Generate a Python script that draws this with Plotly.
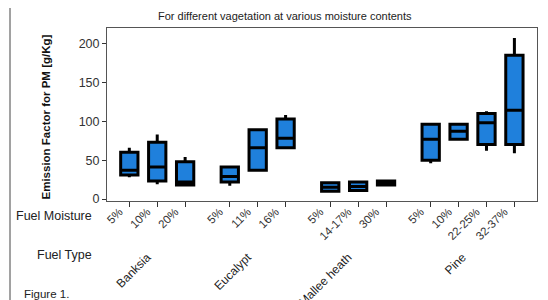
import plotly.graph_objects as go

# ---- data ----
fuel_types = ["Banksia", "Eucalypt", "Mallee heath", "Pine"]
moisture_labels = [
    ["5%", "10%", "20%"],
    ["5%", "11%", "16%"],
    ["5%", "14-17%", "30%"],
    ["5%", "10%", "22-25%", "32-37%"],
]
lower_whisker = [28, 19, 18,   17, 37, 66,   10, 10, 17,   46, 76, 62, 59]
q1_values     = [31, 23, 18,   22, 37, 66,   10, 11, 18,   50, 77, 70, 70]
median_values = [37, 41, 22,   29, 66, 78,   15, 16, 20,   77, 87, 98, 114]
q3_values     = [60, 73, 48,   41, 89, 103,  21, 22, 23,   96, 96, 110, 185]
upper_whisker = [66, 83, 54,   43, 90, 108,  22, 23, 24,   98, 96, 113, 207]
y_ticks = [0, 50, 100, 150, 200]

# ---- positions derived from group structure ----
group_step = 3.6
xpos, xtext, centers = [], [], []
for g, labels in enumerate(moisture_labels):
    base = g * group_step
    for i, lab in enumerate(labels):
        xpos.append(base + i)
        xtext.append(lab)
    centers.append(base + (len(labels) - 1) / 2)

W, H = 548, 300
ML, MR, MT, MB = 99, 19, 20, 107
PW, PH = W - ML - MR, H - MT - MB
XR = [-0.8, 14.61]
# rotated labels are drawn slightly right of their anchor; nudge them back
label_nudge = 10 / PW * (XR[1] - XR[0])
label_pos = [p - label_nudge for p in xpos]
type_pos = [c - label_nudge for c in centers]

def px_x(p):
    return (p - ML) / PW

def px_y(p):
    return (H - MB - p) / PH

fig = go.Figure()
fig.add_trace(go.Box(
    x=xpos, q1=q1_values, median=median_values, q3=q3_values,
    lowerfence=lower_whisker, upperfence=upper_whisker,
    fillcolor="#1f80dc", line=dict(color="black", width=3),
    width=0.62, whiskerwidth=0, boxpoints=False, hoverinfo="skip",
    showlegend=False,
))
# invisible helper traces for the label axes
fig.add_trace(go.Scatter(x=label_pos, y=[None] * len(label_pos), xaxis="x2",
                         mode="markers", showlegend=False, hoverinfo="skip"))
fig.add_trace(go.Scatter(x=type_pos, y=[None] * len(type_pos), xaxis="x3",
                         mode="markers", showlegend=False, hoverinfo="skip"))

font = "Liberation Sans, Arial, sans-serif"
fig.update_layout(
    width=W, height=H,
    margin=dict(l=ML, r=MR, t=MT, b=MB, autoexpand=False),
    paper_bgcolor="white", plot_bgcolor="white",
    font=dict(family=font, size=11, color="#333"),
    title=dict(text="For different vagetation at various moisture contents",
               x=0.505, xref="container", xanchor="center",
               y=1 - 8 / H, yref="container", yanchor="middle",
               font=dict(size=11, color="#222")),
    xaxis=dict(range=XR, tickvals=xpos, showticklabels=False, automargin=False,
               ticks="outside", ticklen=5, tickcolor="#333",
               showline=True, linecolor="#555", linewidth=1, mirror=True,
               showgrid=False, zeroline=False),
    xaxis2=dict(range=XR, overlaying="x", side="bottom", anchor="y", automargin=False,
                tickvals=label_pos, ticktext=xtext, tickangle=-45,
                ticks="", showline=False, showgrid=False, zeroline=False,
                ticklabelstandoff=1, tickfont=dict(size=11.5, color="#333")),
    xaxis3=dict(range=XR, overlaying="x", side="bottom", anchor="y", automargin=False,
                tickvals=type_pos, ticktext=fuel_types, tickangle=-45,
                ticks="", showline=False, showgrid=False, zeroline=False,
                ticklabelstandoff=46, tickfont=dict(size=12, color="#222")),
    yaxis=dict(range=[-2.56, 219.9], tickvals=y_ticks, automargin=False,
               ticks="outside", ticklen=4, tickcolor="#333",
               showline=True, linecolor="#555", linewidth=1, mirror=True,
               showgrid=False, zeroline=False, tickfont=dict(size=12.5, color="#333")),
)

ann = []
ann.append(dict(text="<b>Emission Factor for PM [g/Kg]</b>", textangle=-90,
                x=px_x(38), y=px_y(109.5), xref="paper", yref="paper",
                showarrow=False, font=dict(size=11.5, color="#111"),
                xanchor="center", yanchor="middle"))
ann.append(dict(text="Fuel Moisture", x=px_x(86), y=px_y(208), xref="paper", yref="paper",
                showarrow=False, xanchor="right", yanchor="middle",
                font=dict(size=12.5, color="#222")))
ann.append(dict(text="Fuel Type", x=px_x(86), y=px_y(247), xref="paper", yref="paper",
                showarrow=False, xanchor="right", yanchor="middle",
                font=dict(size=12.5, color="#222")))
ann.append(dict(text="Figure 1.", x=px_x(14), y=px_y(286), xref="paper", yref="paper",
                showarrow=False, xanchor="left", yanchor="middle",
                font=dict(size=11.5, color="#222")))
fig.update_layout(annotations=ann)

fig.add_shape(type="line", xref="paper", yref="paper",
              x0=px_x(2), x1=px_x(2), y0=px_y(0), y1=px_y(300),
              line=dict(color="#444", width=1))

fig.write_html("out.html")
